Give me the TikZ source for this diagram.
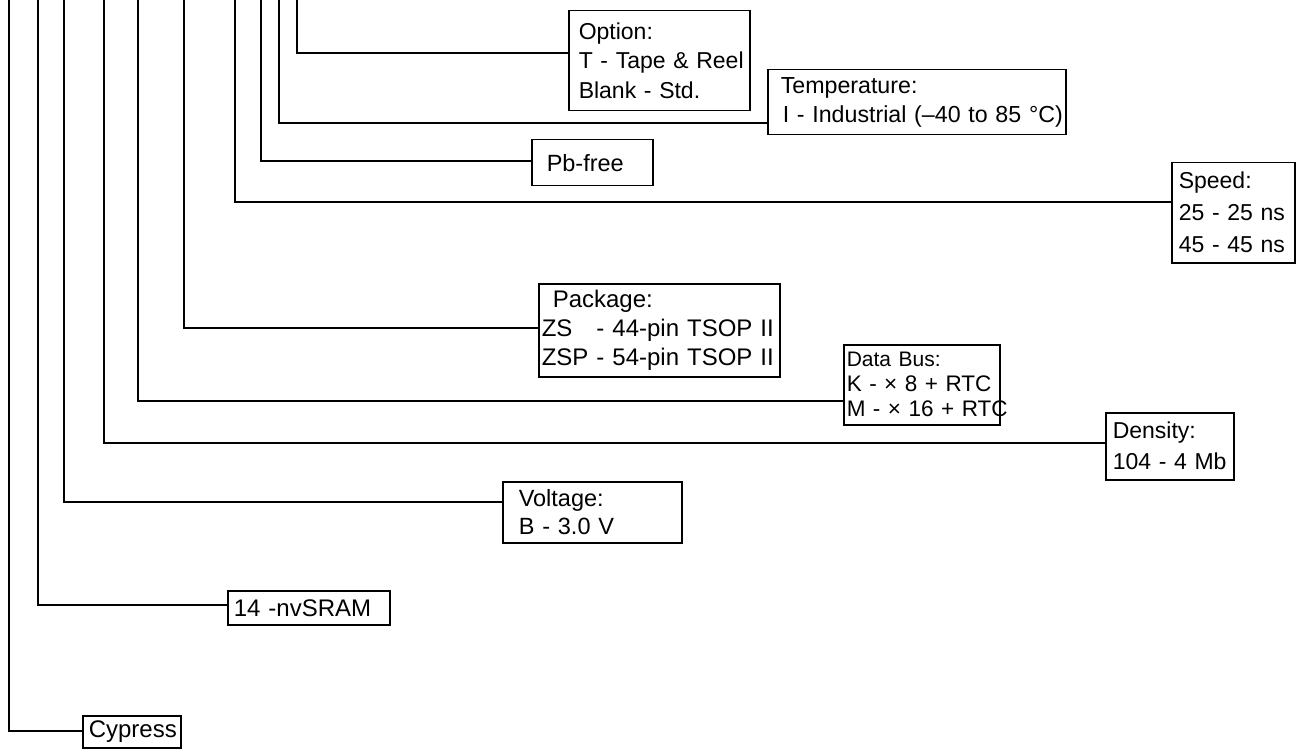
\documentclass[tikz,border=0pt]{standalone}
\usepackage{fontspec}
\setmainfont{Liberation Sans}

\tikzset{
  field/.style={draw, anchor=north west, inner xsep=#1, inner ysep=0pt, align=left,
    font=\fontsize{23.5}{30}\selectfont},
  field/.default=7pt
}

\begin{document}
\begin{tikzpicture}[x=1pt, y=-1pt, line width=1.5pt]
  \useasboundingbox (0,0) rectangle (1297,751);
  % ordering code fields
  \node[field=10pt, text width=161pt, minimum height=100pt, font=\fontsize{23}{29.5}\selectfont] (option) at (568,10) {Option:\\\mbox{T - Tape \& Reel}\\Blank - Std.};
  \node[field=13pt, text width=272pt, minimum height=65pt, font=\fontsize{23.2}{28.5}\selectfont] (temp) at (767,69) {Temperature:\\\mbox{\hspace*{2pt}I - Industrial (–40 to 85~°C)}};
  \node[field=15pt, text width=91pt, minimum height=46pt] (pbfree) at (531,139) {Pb-free};
  \node[field=7pt, text width=109pt, minimum height=100pt, font=\fontsize{23}{32}\selectfont] (speed) at (1171,162) {Speed:\\\mbox{25 - 25 ns}\\\mbox{45 - 45 ns}};
  \node[field=3pt, text width=235pt, minimum height=93pt, font=\fontsize{24}{29}\selectfont] (package) at (538,283) {\hspace*{11pt}Package:\\\mbox{ZS\phantom{P} - 44-pin TSOP II}\\\mbox{ZSP - 54-pin TSOP II}};
  \node[field=3pt, text width=150pt, minimum height=80pt, font=\fontsize{22.5}{25}\selectfont] (databus) at (843,344) {{\fontsize{21}{25}\selectfont Data Bus:}\\\mbox{K - × 8 + RTC}\\\mbox{M - × 16 + RTC}};
  \node[field=7pt, text width=114pt, minimum height=67pt, font=\fontsize{23}{31}\selectfont] (density) at (1105,412) {Density:\\\mbox{104 - 4 Mb}};
  \node[field=16pt, text width=147pt, minimum height=61pt, font=\fontsize{23.5}{28}\selectfont] (voltage) at (502,481) {Voltage:\\B - 3.0 V};
  \node[field=6pt, text width=150pt, minimum height=34pt, font=\fontsize{24}{30}\selectfont] (nvsram) at (227,590) {14 -nvSRAM};
  \node[field=6pt, text width=86pt, minimum height=32pt, font=\fontsize{24}{30}\selectfont] (cypress) at (82,715) {Cypress};

  % leader lines from the part number down to each field
  \foreach \n/\x/\y in {cypress/9/731, nvsram/38/605, voltage/64/502, density/104/443,
      databus/138/401, package/184/328, speed/235/202, pbfree/261/161, temp/279/123, option/297/53}
  {
    \coordinate (top-\n) at (\x,0);
    \coordinate (knee-\n) at (\x,\y);
    \draw (top-\n) -- (knee-\n) -- (knee-\n -| \n.west);
  }
\end{tikzpicture}
\end{document}
